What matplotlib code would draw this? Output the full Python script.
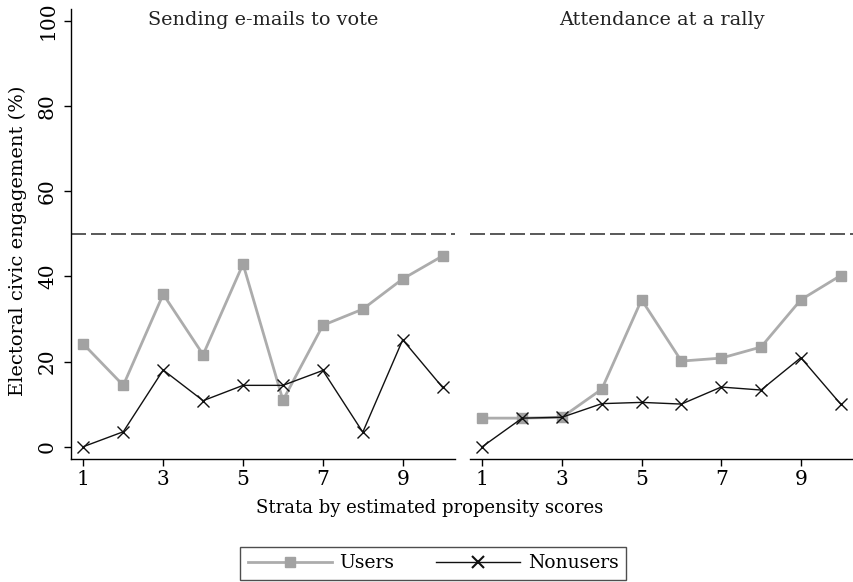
import matplotlib
matplotlib.use("Agg")
import matplotlib.pyplot as plt
from matplotlib.lines import Line2D

plt.rcParams['font.family'] = ['DejaVu Serif']

strata = [1, 2, 3, 4, 5, 6, 7, 8, 9, 10]
panel_titles = ["Sending e-mails to vote", "Attendance at a rally"]

email_users = [24.1, 14.4, 35.8, 21.6, 42.9, 10.9, 28.5, 32.3, 39.4, 44.8]
email_nonusers = [0.0, 3.5, 18.0, 10.8, 14.4, 14.4, 17.9, 3.4, 25.1, 13.9]
rally_users = [6.7, 6.7, 6.9, 13.5, 34.5, 20.1, 20.8, 23.4, 34.5, 40.2]
rally_nonusers = [0.0, 6.7, 6.9, 10.1, 10.4, 10.0, 14.0, 13.3, 20.9, 10.0]

x_ticks = [1, 3, 5, 7, 9]
y_ticks = [0, 20, 40, 60, 80, 100]
reference_level = 50

users_line = '#acacac'
users_marker = '#a2a2a2'
dash_color = '#3c3c3c'

fig = plt.figure(figsize=(8.54, 5.82), dpi=100)
W, H = 854, 582
bottom_px, top_px = 459, 9
ax_l = fig.add_axes([71 / W, (H - bottom_px) / H, (455 - 71) / W, (bottom_px - top_px) / H])
ax_r = fig.add_axes([470 / W, (H - bottom_px) / H, (853 - 470) / W, (bottom_px - top_px) / H])

panels = [(ax_l, email_users, email_nonusers), (ax_r, rally_users, rally_nonusers)]
for i, (ax, users, nonusers) in enumerate(panels):
    ax.axhline(reference_level, color=dash_color, lw=1.2, linestyle=(0, (9, 3)), zorder=1)
    ax.plot(strata, users, color=users_line, lw=2.0, marker='s', ms=6.5,
            mfc=users_marker, mec=users_marker, zorder=2)
    ax.plot(strata, nonusers, color='#111111', lw=1.0, marker='x', ms=8.5,
            mew=1.0, zorder=3)
    ax.set_xlim(0.69, 10.31)
    ax.set_ylim(-2.9, 102.8)
    ax.set_xticks(x_ticks)
    ax.set_yticks(y_ticks)
    for s in ['top', 'right']:
        ax.spines[s].set_visible(False)
    ax.spines['bottom'].set_linewidth(1.0)
    ax.spines['left'].set_linewidth(1.0)
    ax.tick_params(axis='x', length=5, width=1.0, labelsize=14.5, pad=3)
    ax.text(0.5, 0.975, panel_titles[i], transform=ax.transAxes, ha='center', va='center',
            fontsize=13.9, color='#222222')

ax_l.tick_params(axis='y', length=5, width=1.0, labelsize=14.5, pad=5)
for lab in ax_l.get_yticklabels():
    lab.set_rotation(90)
    lab.set_va('center')
ax_r.spines['left'].set_visible(False)
ax_r.tick_params(axis='y', left=False, labelleft=False)

fig.text(18 / W, 1 - 241 / H, "Electoral civic engagement (%)", rotation=90,
         ha='center', va='center', fontsize=14)
fig.text(430 / W, 1 - 508 / H, "Strata by estimated propensity scores",
         ha='center', va='center', fontsize=13)

handles = [
    Line2D([], [], color=users_line, lw=2.0, marker='s', ms=6.5, mfc=users_marker, mec=users_marker),
    Line2D([], [], color='#111111', lw=1.0, marker='x', ms=8.5, mew=1.5),
]
leg = fig.legend(handles, ["Users", "Nonusers"], loc='center', bbox_to_anchor=(433 / W, 1 - 563.5 / H),
                 ncol=2, frameon=True, fancybox=False, fontsize=13.5, handlelength=4.5,
                 columnspacing=2.2, handletextpad=0.4, borderpad=0.4, edgecolor='#222222')
leg.get_frame().set_linewidth(1.0)

fig.savefig("out.png", dpi=100)
